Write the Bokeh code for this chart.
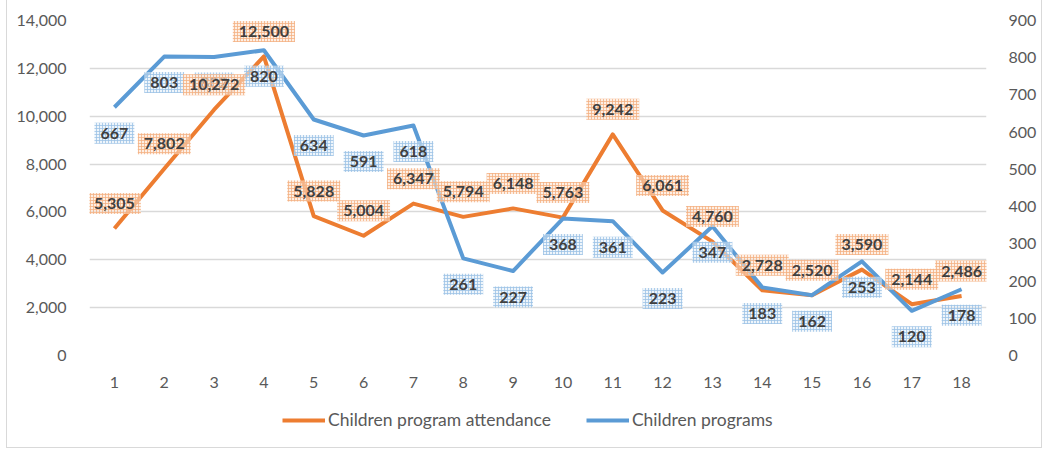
from bokeh.plotting import figure
from bokeh.layouts import column
from bokeh.models import Range1d, LinearAxis, FixedTicker, Legend, LegendItem, NumeralTickFormatter, ColumnDataSource
from bokeh.core.properties import value
from bokeh.embed import file_html
from bokeh.resources import INLINE

periods = list(range(1, 19))
attendance = [5305, 7802, 10272, 12500, 5828, 5004, 6347, 5794, 6148, 5763, 9242, 6061, 4760, 2728, 2520, 3590, 2144, 2486]
programs = [667, 803, 802, 820, 634, 591, 618, 261, 227, 368, 361, 223, 347, 183, 162, 253, 120, 178]
left_ticks = [0, 2000, 4000, 6000, 8000, 10000, 12000, 14000]
right_ticks = [0, 100, 200, 300, 400, 500, 600, 700, 800, 900]
series_names = ["Children program attendance", "Children programs"]

FONT = "Lato"
GRAY = "#595959"
ORANGE = "#ED7D31"
BLUE = "#5B9BD5"

p = figure(width=1034, height=390, output_backend="svg", toolbar_location=None,
           x_range=Range1d(0.5, 18.5), y_range=Range1d(0, 14000),
           min_border_left=82, min_border_right=55, min_border_top=20, min_border_bottom=35)
p.outline_line_color = None
p.extra_y_ranges = {"right": Range1d(0, 900)}

for ax in [p.xaxis[0], p.yaxis[0]]:
    ax.axis_line_color = None
    ax.major_tick_line_color = None
    ax.minor_tick_line_color = None
    ax.major_label_text_color = GRAY
    ax.major_label_text_font = FONT
    ax.major_label_text_font_size = "16px"

p.xaxis.ticker = FixedTicker(ticks=periods)
p.xaxis.major_label_standoff = 15
p.yaxis.ticker = FixedTicker(ticks=left_ticks)
p.yaxis.formatter = NumeralTickFormatter(format="0,0")
p.yaxis.major_label_standoff = 17

ra = LinearAxis(y_range_name="right", ticker=FixedTicker(ticks=right_ticks))
ra.axis_line_color = None
ra.major_tick_line_color = None
ra.minor_tick_line_color = None
ra.major_label_text_color = GRAY
ra.major_label_text_font = FONT
ra.major_label_text_font_size = "16px"
ra.major_label_standoff = 16
p.add_layout(ra, "right")

p.xgrid.grid_line_color = None
p.ygrid.grid_line_color = "#d9d9d9"
p.ygrid.grid_line_width = 1.5

src = ColumnDataSource(dict(x=periods, att=attendance, prog=programs,
                            att_lbl=[f"{v:,}" for v in attendance],
                            prog_lbl=[f"{v:,}" for v in programs]))

p.line("x", "att", source=src, line_color=ORANGE, line_width=4, line_join="round")
p.line("x", "prog", source=src, line_color=BLUE, line_width=4, line_join="round", y_range_name="right")

p.text("x", "prog", text="prog_lbl", source=src, y_offset=26, y_range_name="right",
       text_align="center", text_baseline="middle", text_color="#404040",
       text_font=value(FONT), text_font_style="bold", text_font_size="16px",
       padding=(6, 5), background_fill_color="#e3eef9", background_fill_alpha=0.6,
       background_hatch_pattern="cross", background_hatch_color="#9dc3e6",
       background_hatch_scale=3, background_hatch_weight=1, background_hatch_alpha=0.8)

p.text("x", "att", text="att_lbl", source=src, y_offset=-25,
       text_align="center", text_baseline="middle", text_color="#404040",
       text_font=value(FONT), text_font_style="bold", text_font_size="16px",
       padding=(6, 5), background_fill_color="#fce4d4", background_fill_alpha=0.6,
       background_hatch_pattern="cross", background_hatch_color="#f4b183",
       background_hatch_scale=3, background_hatch_weight=1, background_hatch_alpha=0.8)

# legend strip (series drawn out of view so only legend entries show)
p2 = figure(width=1034, height=57, output_backend="svg", toolbar_location=None,
            x_range=Range1d(100, 101), y_range=Range1d(100000, 100001),
            x_axis_type=None, y_axis_type=None,
            min_border_left=0, min_border_right=0, min_border_top=0, min_border_bottom=0,
            outline_line_color=None)
p2.grid.visible = False
l1 = p2.line("x", "att", source=src, line_color=ORANGE, line_width=4)
l2 = p2.line("x", "prog", source=src, line_color=BLUE, line_width=4)
legend = Legend(items=[LegendItem(label=series_names[0], renderers=[l1]),
                       LegendItem(label=series_names[1], renderers=[l2])],
                orientation="horizontal", location=(193, 17),
                label_text_font=FONT, label_text_font_size="17.5px", label_text_color=GRAY,
                glyph_width=43, spacing=35, border_line_color=None, background_fill_alpha=0,
                margin=0, padding=0, label_standoff=3)
p2.add_layout(legend, "center")

layout = column(p, p2, spacing=0)
layout.styles = {"margin-left": "6px", "border-left": "1px solid #d9d9d9",
                 "border-right": "1px solid #d9d9d9", "border-bottom": "1px solid #d9d9d9"}

open("out.html", "w").write(file_html(layout, INLINE))
